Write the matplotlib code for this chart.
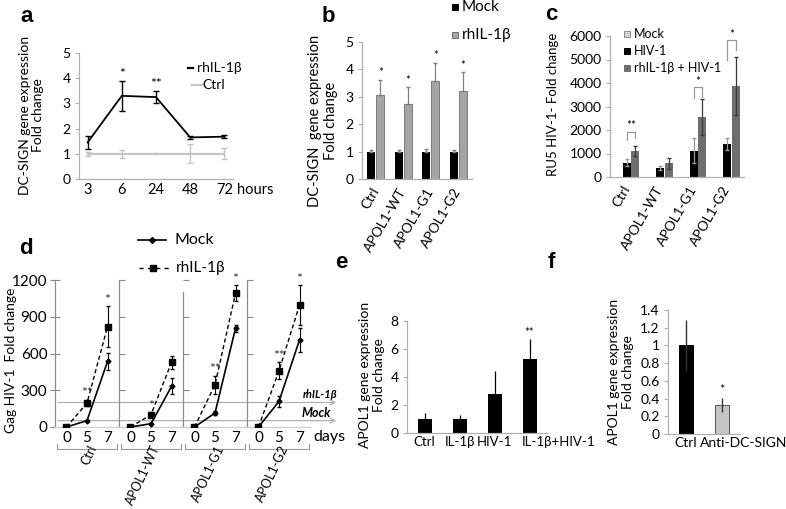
import matplotlib
matplotlib.use('Agg')
import matplotlib.pyplot as plt
from matplotlib.lines import Line2D
from matplotlib.patches import Rectangle
import matplotlib.transforms as mtransforms

plt.rcParams['font.family'] = ['Lato', 'DejaVu Sans']

# ---------------- data ----------------
# panel a
a_time = ['3', '6', '24', '48', '72']
a_il = [1.45, 3.30, 3.25, 1.65, 1.68]
a_il_err = [0.25, 0.60, 0.25, 0.05, 0.06]
a_ctrl = [1.0, 1.0, 1.0, 1.0, 1.0]
a_ctrl_err = [0.08, 0.15, 0.02, 0.37, 0.22]
a_sig = ['', '*', '**', '', '']

# panel b
groups = ['Ctrl', 'APOL1-WT', 'APOL1-G1', 'APOL1-G2']
b_mock = [1.0, 1.0, 1.0, 1.0]
b_mock_err = [0.05, 0.05, 0.08, 0.05]
b_il = [3.07, 2.72, 3.57, 3.20]
b_il_err = [0.56, 0.63, 0.68, 0.70]
b_sig = ['*', '*', '*', '*']

# panel c
c_mock = [15, 15, 15, 15]
c_hiv = [600, 380, 1120, 1420]
c_hiv_err = [150, 80, 520, 250]
c_il = [1120, 580, 2550, 3880]
c_il_err = [220, 220, 780, 1230]
c_sig = ['**', '', '*', '*']
c_bracket_top = [1930, None, 3840, 5830]
c_bracket_legs = [(1580, 1660), None, (3350, 3420), (5000, 5400)]

# panel d
d_days = ['0', '5', '7']
d_mock = [[0, 52, 535], [0, 27, 331], [0, 114, 806], [0, 209, 711]]
d_mock_err = [[0, 5, 70], [0, 5, 65], [0, 15, 30], [0, 45, 100]]
d_il = [[0, 195, 820], [0, 100, 527], [0, 345, 1091], [0, 459, 996]]
d_il_err = [[0, 25, 165], [0, 20, 50], [0, 75, 65], [0, 70, 160]]
d_sig = [['', '**', '*'], ['', '*', ''], ['', '**', '*'], ['', '**', '*']]
d_ref_levels = [200, 52]
d_ref_labels = ['rhIL-1β', 'Mock']

# panel e
e_cats = ['Ctrl', 'IL-1β', 'HIV-1', 'IL-1β+HIV-1']
e_vals = [1.0, 1.0, 2.82, 5.28]
e_err = [0.42, 0.28, 1.6, 1.4]
e_sig = ['', '', '', '**']

# panel f
f_cats = ['Ctrl', 'Anti-DC-SIGN']
f_vals = [1.0, 0.33]
f_err = [0.29, 0.08]
f_sig = ['', '*']

# ---------------- figure ----------------
W, H = 786, 509
fig = plt.figure(figsize=(W / 100, H / 100), dpi=100)


def fx(x):
    return x / W


def fy(y):
    return 1 - y / H


def add_ax(x0, ytop, x1, ybot):
    return fig.add_axes([x0 / W, 1 - ybot / H, (x1 - x0) / W, (ybot - ytop) / H])


AX = '#b0b0b0'


def style(ax, color=AX, fs=10):
    for s in ['top', 'right']:
        ax.spines[s].set_visible(False)
    for s in ['left', 'bottom']:
        ax.spines[s].set_color(color)
        ax.spines[s].set_linewidth(0.9)
    ax.tick_params(axis='y', colors=color, labelcolor='black', length=3,
                   width=0.8, pad=3, labelsize=fs)
    ax.tick_params(axis='x', length=0, labelcolor='black', pad=3, labelsize=fs)
    ax.set_facecolor('none')


def letter(x, y, s):
    fig.text(fx(x), fy(y), s, fontsize=16, fontweight='bold',
             family=['Liberation Sans', 'DejaVu Sans'], ha='center', va='center')


def ylab(x, y, s, fs=10, ls=1.1):
    fig.text(fx(x), fy(y), s, rotation=90, ha='center', va='center',
             fontsize=fs, linespacing=ls)


def square(x, y, size, fc, ec):
    fig.patches.append(Rectangle((fx(x - size / 2), fy(y + size / 2)), size / W, size / H,
                                 transform=fig.transFigure, facecolor=fc,
                                 edgecolor=ec, linewidth=0.7))


def manual_xlabels(ax, labels, xs, has, hpx, fs=10):
    tr = mtransforms.blended_transform_factory(ax.transData, ax.transAxes)
    for lab, x, ha in zip(labels, xs, has):
        ax.text(x, -3.0 / hpx, lab, transform=tr, ha=ha, va='top', fontsize=fs)


# ---------- panel a ----------
ax = add_ax(79, 53, 233, 179)
style(ax)
xa = list(range(len(a_time)))
ax.errorbar(xa, a_ctrl, yerr=a_ctrl_err, color='#c4c4c4', lw=1.6,
            elinewidth=1.0, capsize=2.5, capthick=1.0)
ax.errorbar(xa, a_il, yerr=a_il_err, color='black', lw=1.3,
            elinewidth=1.0, capsize=2.5, capthick=1.0)
for i, s in enumerate(a_sig):
    if s:
        ax.text(i, a_il[i] + a_il_err[i] + 0.02, s, ha='center', va='bottom', fontsize=10)
ax.set_xlim(-0.25, 4.25)
ax.set_ylim(0, 5)
ax.set_yticks(range(6))
ax.set_xticks(xa)
ax.set_xticklabels(a_time, fontsize=10.5)
fig.text(fx(237), fy(190), 'hours', fontsize=10.5, va='center', ha='left')
fig.add_artist(Line2D([fx(188), fx(193)], [fy(68), fy(68)], color='black', lw=1.6))
fig.text(fx(197), fy(68), 'rhIL-1β', fontsize=10, va='center')
fig.add_artist(Line2D([fx(192), fx(202)], [fy(85), fy(85)], color='#c4c4c4', lw=1.6))
fig.text(fx(202), fy(85), 'Ctrl', fontsize=10, va='center')
ylab(32, 115, 'DC-SIGN gene expression\nFold change', fs=10, ls=1.1)
letter(27, 17, 'a')

# ---------- panel b ----------
ax = add_ax(362, 42, 472, 179)
style(ax)
xb = list(range(len(groups)))
bw = 0.29
ax.bar([x - 0.17 for x in xb], b_mock, width=bw, color='black', zorder=2)
ax.bar([x + 0.17 for x in xb], b_il, width=bw, color='#a5a5a5', edgecolor='#6e6e6e',
       linewidth=0.6, zorder=2)
ax.errorbar([x - 0.17 for x in xb], b_mock, yerr=[[0] * 4, b_mock_err], fmt='none',
            ecolor='#808080', elinewidth=0.9, capsize=1.5, zorder=3)
ax.errorbar([x + 0.17 for x in xb], b_il, yerr=[[0] * 4, b_il_err], fmt='none',
            ecolor='#808080', elinewidth=0.9, capsize=1.5, zorder=3)
for i, s in enumerate(b_sig):
    ax.text(i + 0.17, b_il[i] + b_il_err[i] + 0.05, s, ha='center', va='bottom', fontsize=8)
ax.set_xlim(-0.5, 3.5)
ax.set_ylim(0, 5)
ax.set_yticks(range(6))
ax.set_xticks(xb)
ax.set_xticklabels(groups, rotation=60, ha='right', va='center',
                   rotation_mode='anchor', fontsize=10)
ax.tick_params(axis='x', pad=7)
square(455, 7, 6, 'black', 'black')
fig.text(fx(462), fy(7), 'Mock', fontsize=11, va='center')
square(455, 35, 6, '#a5a5a5', '#6e6e6e')
fig.text(fx(462), fy(35), 'rhIL-1β', fontsize=11, va='center')
ylab(323, 121, 'DC-SIGN  gene expression\nFold change', fs=10.5, ls=1.1)
letter(328, 16, 'b')

# ---------- panel c ----------
ax = add_ax(610, 36, 744, 177)
style(ax)
xc = list(range(len(groups)))
cw = 0.24
ax.bar([x - 0.26 for x in xc], c_mock, width=cw, color='#d0d0d0', edgecolor='#8a8a8a',
       linewidth=0.5, zorder=2)
ax.bar(xc, c_hiv, width=cw, color='black', zorder=2)
ax.bar([x + 0.26 for x in xc], c_il, width=cw, color='#6e6e6e', zorder=2)
ax.errorbar(xc, c_hiv, yerr=c_hiv_err, fmt='none', ecolor='#9a9a9a',
            elinewidth=0.9, capsize=1.5, zorder=3)
ax.errorbar([x + 0.26 for x in xc], c_il, yerr=c_il_err, fmt='none', ecolor='#3a3a3a',
            elinewidth=0.9, capsize=1.5, zorder=3)
for i, s in enumerate(c_sig):
    if s:
        top = c_bracket_top[i]
        l0, l1 = c_bracket_legs[i]
        ax.plot([i, i, i + 0.26, i + 0.26], [l0, top, top, l1], color='#9a9a9a', lw=0.9)
        ax.text(i + 0.13, top + 10, s, ha='center', va='bottom', fontsize=8.5)
ax.set_xlim(-0.5, 3.5)
ax.set_ylim(0, 6000)
ax.set_yticks(range(0, 6001, 1000))
ax.set_xticks(xc)
ax.set_xticklabels(groups, rotation=60, ha='right', va='center',
                   rotation_mode='anchor', fontsize=10)
ax.tick_params(axis='x', pad=7)
c_leg = [('Mock', '#d0d0d0', '#8a8a8a'), ('HIV-1', 'black', 'black'),
         ('rhIL-1β + HIV-1', '#6e6e6e', '#6e6e6e')]
for k, (lab, fc, ec) in enumerate(c_leg):
    yy = 34 + 17 * k
    square(627, yy, 6, fc, ec)
    fig.text(fx(634), fy(yy), lab, fontsize=9, va='center')
ylab(553, 104, 'RU5 HIV-1- Fold change', fs=9.5)
letter(551, 15, 'c')

# ---------- panel d ----------
DAX = '#8c8c8c'
lefts = [55, 119, 183, 247]
dw = 64
d_axes = []
for g in range(4):
    ax = add_ax(lefts[g], 280, lefts[g] + dw, 427)
    for s in ['top', 'right']:
        ax.spines[s].set_visible(False)
    ax.spines['left'].set_color(DAX)
    ax.spines['bottom'].set_color('#cfcfcf')
    ax.spines['left'].set_linewidth(0.9)
    ax.spines['bottom'].set_linewidth(0.9)
    ax.set_facecolor('none')
    xd = [0, 1, 2]
    ax.errorbar(xd, d_mock[g], yerr=d_mock_err[g], color='black', lw=1.2, marker='D',
                ms=2.5, elinewidth=0.8, capsize=1.5, zorder=3)
    ax.errorbar(xd, d_il[g], yerr=d_il_err[g], color='black', lw=1.0, ls=(0, (3, 2)),
                marker='s', ms=4, elinewidth=0.8, capsize=1.5, zorder=3)
    for i, s in enumerate(d_sig[g]):
        if s:
            ax.text(i, d_il[g][i] + d_il_err[g][i] + 5, s, ha='center', va='bottom',
                    fontsize=10, color='#333333')
    ax.set_xlim(-0.56, 2.56)
    ax.set_ylim(0, 1200)
    ax.set_yticks(range(0, 1201, 300))
    ax.set_xticks(xd)
    ax.set_xticklabels(d_days, fontsize=11)
    ax.tick_params(axis='x', length=0, pad=3)
    if g == 0:
        ax.tick_params(axis='y', direction='inout', length=7, colors=DAX,
                       labelcolor='black', labelsize=11, pad=2)
    else:
        ax.tick_params(axis='y', direction='in', length=4, colors=DAX, labelleft=False)
    if g == 2:
        ax.spines['left'].set_bounds(0, 1100)
    tr = mtransforms.blended_transform_factory(ax.transData, fig.transFigure)
    ax.add_artist(Line2D([-0.45, -0.45, 2.45, 2.45], [fy(444), fy(449), fy(449), fy(444)],
                         transform=tr, color='#9a9a9a', lw=0.8, clip_on=False))
    ax.text(1.3, fy(446), groups[g], transform=tr, rotation=65, ha='right', va='center',
            rotation_mode='anchor', fontsize=9)
    d_axes.append(ax)

tr0 = mtransforms.blended_transform_factory(fig.transFigure, d_axes[0].transData)
for lev in d_ref_levels:
    d_axes[0].annotate('', xy=(fx(339), lev), xytext=(fx(55), lev), xycoords=tr0,
                       textcoords=tr0,
                       arrowprops=dict(arrowstyle='->,head_length=0.35,head_width=0.18',
                                       color='#b0b0b0', lw=0.9))
fig.text(fx(337), fy(395), d_ref_labels[0], fontsize=8, fontweight='bold',
         style='italic', ha='right', va='center')
fig.text(fx(331), fy(413), d_ref_labels[1], fontsize=9, fontweight='bold',
         style='italic', ha='right', va='center')
fig.text(fx(313), fy(437), 'days', fontsize=11.5, va='center', ha='left')
fig.add_artist(Line2D([fx(138), fx(166)], [fy(240), fy(240)], color='black', lw=1.2))
fig.add_artist(Line2D([fx(152)], [fy(240)], color='black', marker='D', ms=3))
fig.text(fx(175), fy(240), 'Mock', fontsize=11.5, va='center')
fig.add_artist(Line2D([fx(139), fx(170)], [fy(268), fy(268)], color='black', lw=1.0,
                      ls=(0, (3, 3))))
fig.add_artist(Line2D([fx(153)], [fy(268)], color='black', marker='s', ms=4))
fig.text(fx(176), fy(268), 'rhIL-1β', fontsize=11, va='center')
ylab(11, 360, 'Gag HIV-1  Fold change', fs=10)
letter(26, 249, 'd')

# ---------- panel e ----------
ax = add_ax(407, 321, 547, 433)
style(ax)
xe = list(range(len(e_cats)))
ax.bar(xe, e_vals, width=0.4, color='black', zorder=2)
ax.errorbar(xe, e_vals, yerr=[[0] * 4, e_err], fmt='none', ecolor='black',
            elinewidth=0.9, capsize=0, zorder=3)
for i, s in enumerate(e_sig):
    if s:
        ax.text(i, e_vals[i] + e_err[i] + 0.1, s, ha='center', va='bottom', fontsize=8)
ax.set_xlim(-0.5, 3.5)
ax.set_ylim(0, 8)
ax.set_yticks(range(0, 9, 2))
ax.set_xticks(xe)
ax.set_xticklabels([])
manual_xlabels(ax, e_cats, [0, 1, 2, 3 - 0.22], ['center', 'center', 'center', 'left'],
               112, fs=9.5)
ylab(372, 375, 'APOL1 gene expression\nFold change', fs=10, ls=1.15)
letter(341, 262, 'e')

# ---------- panel f ----------
ax = add_ax(668, 310, 740, 434)
style(ax)
xf = list(range(len(f_cats)))
ax.bar(xf, f_vals, width=0.4, color=['black', '#c4c4c4'], edgecolor=['black', '#555555'],
       linewidth=0.7, zorder=2)
ax.errorbar(xf, f_vals, yerr=f_err, fmt='none', ecolor='#333333',
            elinewidth=1.0, capsize=0, zorder=3)
for i, s in enumerate(f_sig):
    if s:
        ax.text(i, f_vals[i] + f_err[i] + 0.02, s, ha='center', va='bottom', fontsize=9)
ax.set_xlim(-0.5, 1.5)
ax.set_ylim(0, 1.4)
ax.set_yticks([0, 0.2, 0.4, 0.6, 0.8, 1.0, 1.2, 1.4])
ax.set_yticklabels(['0', '0.2', '0.4', '0.6', '0.8', '1', '1.2', '1.4'])
ax.set_xticks(xf)
ax.set_xticklabels([])
manual_xlabels(ax, f_cats, [0, 1 - 0.61], ['center', 'left'], 124, fs=10)
ylab(621, 372, 'APOL1 gene expression\nFold change', fs=10, ls=1.15)
letter(551, 263, 'f')

fig.savefig('out.png', dpi=100)
